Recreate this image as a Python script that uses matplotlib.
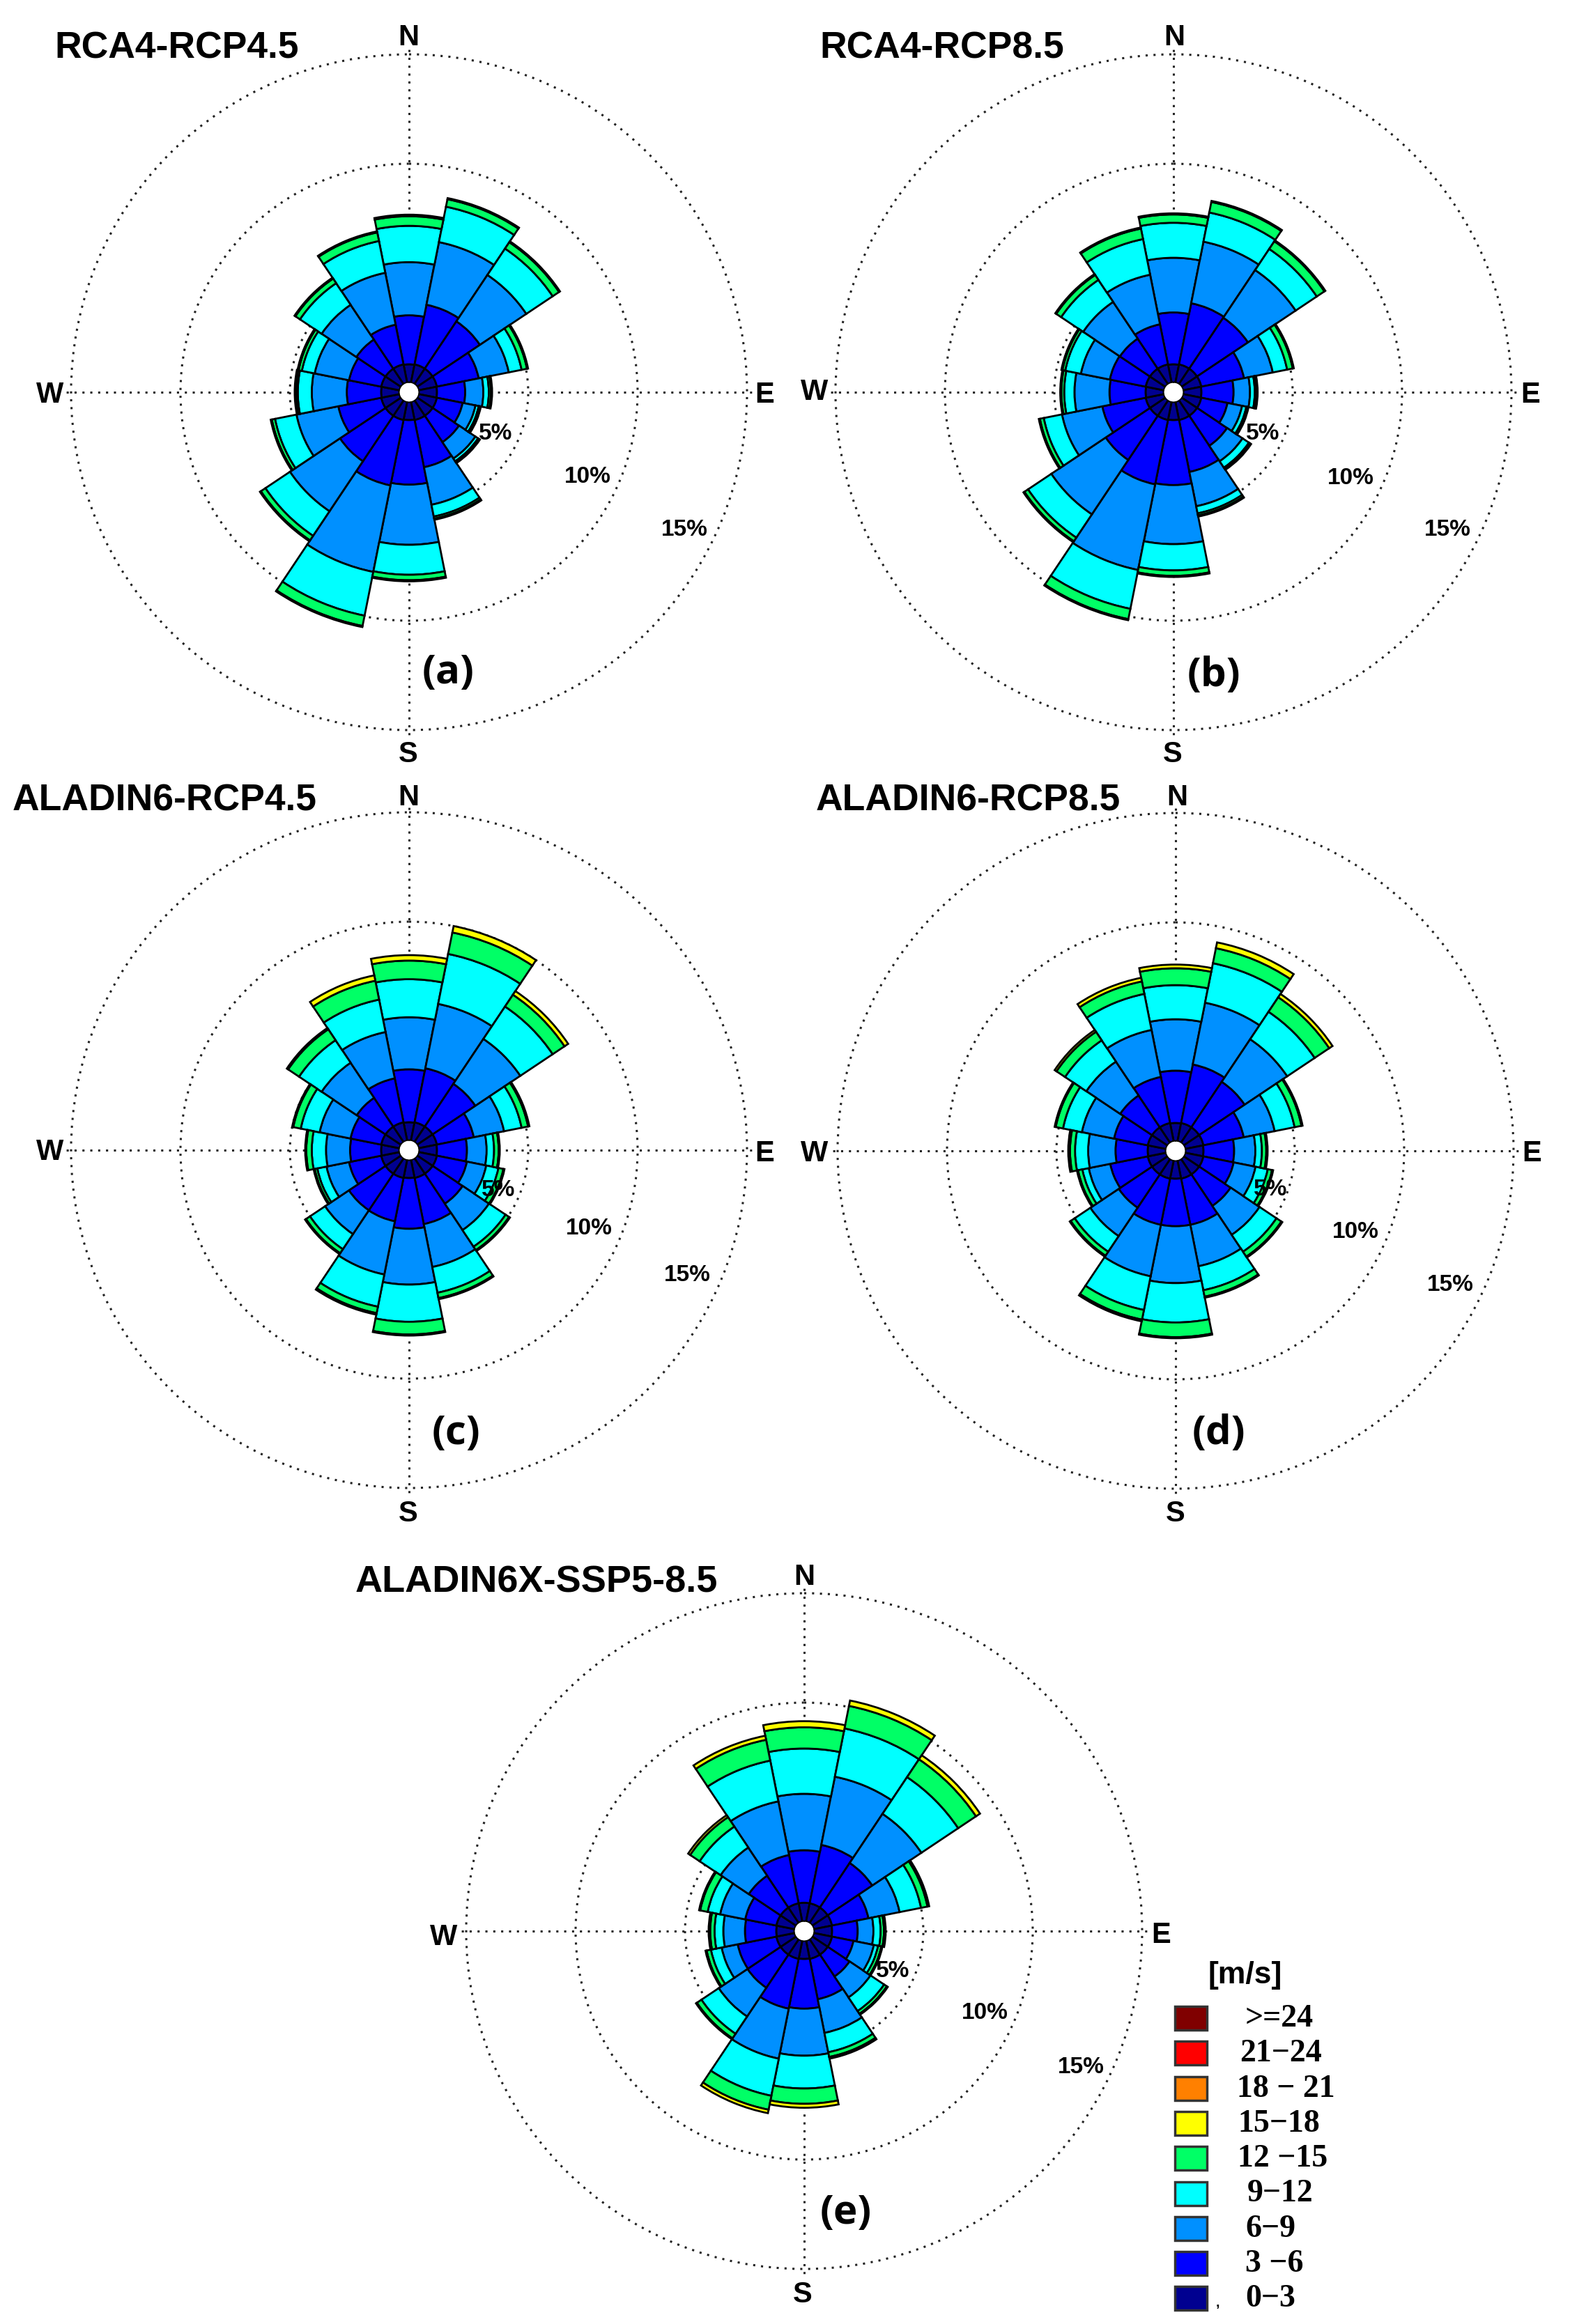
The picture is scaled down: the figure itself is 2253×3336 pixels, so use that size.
import numpy as np
import matplotlib
matplotlib.use('Agg')
import matplotlib.pyplot as plt
from matplotlib.patches import Rectangle

# size of the figure in pixels
W_px = 2253
H_px = 3336

directions = ['N', 'NNE', 'NE', 'ENE', 'E', 'ESE', 'SE', 'SSE', 'S', 'SSW', 'SW', 'WSW', 'W', 'WNW', 'NW', 'NNW']
class_colors = ['#000090', '#0000FF', '#0090FF', '#00FFFF', '#00FF66', '#FFFF00']

# cumulative frequency (%) at the top of the classes 0-3,3-6,6-9,9-12,12-15,15-18, one row per direction
rca4_45 = [[.83, 3.07, 5.5, 7.16, 7.6, 7.67], [.85, 3.63, 6.55, 8.2, 8.55, 8.6], [.85, 3.45, 6.0, 7.45, 7.8, 7.85],
           [.85, 2.8, 4.2, 4.8, 5.05, 5.1], [.83, 2.12, 2.95, 3.2, 3.3, 3.35], [.85, 2.05, 2.65, 2.8, 2.85, 2.9],
           [.85, 2.3, 3.2, 3.35, 3.42, 3.45], [.85, 3.05, 4.8, 5.35, 5.45, 5.5], [.83, 3.78, 6.53, 7.9, 8.15, 8.2],
           [.85, 3.9, 7.93, 9.97, 10.45, 10.5], [.85, 3.35, 6.1, 7.45, 7.7, 7.75], [.85, 2.85, 4.8, 5.8, 5.95, 6.0],
           [.83, 2.4, 4.0, 4.64, 4.73, 4.78], [.85, 2.35, 3.95, 4.55, 4.7, 4.75], [.85, 2.45, 4.36, 5.55, 5.8, 5.85],
           [.85, 2.7, 5.12, 6.6, 7.0, 7.05]]

rca4_85 = [[.83, 3.2, 5.7, 7.3, 7.68, 7.73], [.85, 3.7, 6.57, 7.93, 8.42, 8.47], [.85, 3.65, 6.27, 7.43, 7.85, 7.9],
           [.85, 2.84, 4.18, 4.85, 5.11, 5.16], [.83, 2.3, 3.05, 3.27, 3.35, 3.4], [.85, 2.07, 2.75, 2.95, 3.0, 3.05],
           [.85, 2.5, 3.35, 3.7, 3.77, 3.82], [.85, 3.27, 4.87, 5.2, 5.3, 5.35], [.83, 3.8, 6.5, 7.7, 7.95, 8.0],
           [.85, 3.85, 7.84, 9.65, 10.13, 10.18], [.85, 3.28, 6.27, 7.55, 7.75, 7.8], [.85, 2.87, 4.75, 5.6, 5.78, 5.83],
           [.83, 2.48, 4.08, 4.55, 4.68, 4.73], [.85, 2.52, 3.87, 4.6, 4.73, 4.78], [.85, 2.5, 4.52, 5.73, 6.0, 6.05],
           [.85, 2.72, 5.03, 6.69, 7.18, 7.23]]

aladin_45 = [[.83, 3.25, 5.63, 7.37, 8.22, 8.47], [.85, 3.37, 6.37, 8.7, 9.7, 10.0], [.85, 3.2, 5.67, 7.45, 8.1, 8.3],
             [.85, 2.57, 3.98, 4.8, 5.1, 5.16], [.83, 2.2, 3.1, 3.44, 3.65, 3.7], [.85, 2.25, 3.15, 3.72, 3.95, 4.0],
             [.85, 2.5, 3.95, 4.86, 5.05, 5.1], [.85, 3.0, 5.0, 6.2, 6.45, 6.5], [.83, 3.15, 5.7, 7.4, 7.98, 8.03],
             [.85, 2.87, 5.35, 6.85, 7.15, 7.22], [.85, 2.86, 4.17, 5.0, 5.22, 5.27], [.85, 2.35, 3.4, 3.83, 3.95, 4.0],
             [.83, 2.25, 3.35, 4.0, 4.25, 4.3], [.85, 2.28, 3.72, 4.6, 4.95, 5.0], [.85, 2.43, 4.36, 5.6, 6.2, 6.27],
             [.85, 2.9, 5.06, 6.57, 7.45, 7.7]]

aladin_85 = [[.83, 3.22, 5.57, 7.13, 7.9, 8.07], [.85, 3.58, 6.46, 8.3, 9.0, 9.27], [.85, 3.35, 5.69, 7.2, 8.0, 8.18],
             [.85, 2.73, 4.17, 5.1, 5.42, 5.47], [.83, 2.23, 3.2, 3.5, 3.7, 3.76], [.85, 2.26, 3.28, 3.85, 4.05, 4.1],
             [.85, 2.58, 4.17, 5.1, 5.37, 5.42], [.85, 3.0, 4.93, 6.05, 6.35, 6.4], [.83, 3.0, 5.6, 7.4, 8.07, 8.12],
             [.85, 3.0, 5.4, 6.97, 7.42, 7.5], [.85, 2.68, 4.24, 5.1, 5.32, 5.37], [.85, 2.6, 3.6, 3.9, 4.1, 4.15],
             [.83, 2.3, 3.55, 4.15, 4.38, 4.46], [.85, 2.42, 3.92, 4.8, 5.14, 5.19], [.85, 2.6, 4.46, 5.63, 6.1, 6.2],
             [.85, 3.0, 5.19, 6.87, 7.45, 7.62]]

aladinx_ssp = [[.85, 3.25, 5.83, 7.9, 8.87, 9.15], [.85, 3.57, 6.75, 9.0, 10.05, 10.3], [.85, 3.3, 6.0, 8.02, 9.0, 9.22],
               [.85, 2.55, 4.0, 5.0, 5.3, 5.38], [.83, 2.0, 2.72, 3.05, 3.2, 3.28], [.85, 1.85, 2.8, 3.0, 3.15, 3.2],
               [.85, 2.05, 3.2, 3.95, 4.1, 4.15], [.85, 2.73, 4.3, 5.2, 5.42, 5.5], [.83, 3.1, 5.25, 6.75, 7.45, 7.63],
               [.85, 3.17, 5.5, 7.23, 7.88, 8.04], [.85, 2.67, 4.25, 5.2, 5.45, 5.5], [.85, 2.65, 3.4, 3.9, 4.1, 4.15],
               [.83, 2.26, 3.25, 3.65, 3.85, 3.92], [.85, 2.3, 3.47, 4.05, 4.4, 4.45], [.85, 2.6, 4.15, 5.3, 5.82, 5.93],
               [.85, 3.1, 5.6, 7.5, 8.47, 8.66]]

legend_labels = ['>=24', '21\u221224', '18 \u2212 21', '15\u221218', '12 \u221215', '9\u221212', '6\u22129', '3 \u22126', '0\u22123']
legend_colors = ['#800000', '#FF0000', '#FF8000', '#FFFF00', '#00FF66', '#00FFFF', '#0090FF', '#0000FF', '#000090']
legend_text_x = [1836, 1838, 1845, 1835, 1841, 1837, 1823, 1829, 1823]

# radial scale: pixels per percent and hole in the middle (pixels)
px_per_pct = 31.4
hole_px = 14.0
r_max = 15.25

plt.rcParams['font.family'] = ['Liberation Sans', 'DejaVu Sans']
fig = plt.figure(figsize=(W_px / 100.0, H_px / 100.0), dpi=100, facecolor='white')

# full figure axes in pixel coordinates for all the text and the legend
over = fig.add_axes([0, 0, 1, 1], zorder=5)
over.set_xlim(0, W_px)
over.set_ylim(H_px, 0)
over.axis('off')
over.patch.set_alpha(0)


def rose(data, cx, cy):
    half = hole_px + r_max * px_per_pct
    ax = fig.add_axes([(cx - half) / W_px, 1 - (cy + half) / H_px, 2 * half / W_px, 2 * half / H_px],
                      projection='polar')
    ax.set_theta_zero_location('N')
    ax.set_theta_direction(-1)
    ax.set_axisbelow(True)
    tops = np.array(data)
    theta = np.arange(len(directions)) * 2 * np.pi / len(directions)
    width = 2 * np.pi / len(directions)
    for k in range(tops.shape[1]):
        bottom = tops[:, k - 1] if k > 0 else np.zeros(len(directions))
        ax.bar(theta, tops[:, k] - bottom, width=width, bottom=bottom, color=class_colors[k],
               edgecolor='black', linewidth=2.0, align='center')
    ax.set_rorigin(-hole_px / px_per_pct)
    ax.set_rlim(0, r_max)
    ax.set_rticks([5, 10, 15])
    ax.set_thetagrids([0, 90, 180, 270])
    ax.set_xticklabels([])
    ax.set_yticklabels([])
    ax.grid(True, color='#222222', linewidth=2.2, linestyle=(0, (1, 2.7)))
    ax.spines['polar'].set_visible(False)
    ax.patch.set_alpha(0)
    return ax


def label(x, y, s, size=30, weight='bold', family=None, ha='center', va='center'):
    over.text(x, y, s, fontsize=size, fontweight=weight, ha=ha, va=va, color='black',
              family=family if family else ['Liberation Sans', 'DejaVu Sans'])


panels = [
    (rca4_45, 587, 563, 'RCA4-RCP4.5', 38.5, 78, 83,
     [(586, 54), (1097, 567), (586, 1083), (72, 567)], [(711, 622), (843, 684), (982, 760)], '(a)', (643, 966)),
    (rca4_85, 1684, 563, 'RCA4-RCP8.5', 38.5, 1176, 83,
     [(1685, 54), (2196, 567), (1683, 1083), (1169, 563)], [(1812, 622), (1938, 686), (2077, 760)], '(b)', (1742, 970)),
    (aladin_45, 587, 1651, 'ALADIN6-RCP4.5', 38.5, 18, 1164,
     [(586, 1145), (1097, 1656), (586, 2173), (72, 1654)], [(715, 1708), (845, 1763), (986, 1830)], '(c)', (654, 2058)),
    (aladin_85, 1687, 1652, 'ALADIN6-RCP8.5', 38.5, 1171, 1164,
     [(1689, 1145), (2198, 1656), (1687, 2173), (1169, 1656)], [(1823, 1707), (1945, 1768), (2081, 1844)], '(d)', (1749, 2058)),
    (aladinx_ssp, 1154, 2772, 'ALADIN6X-SSP5-8.5', 39, 510, 2285,
     [(1154, 2264), (1666, 2778), (1152, 3294), (637, 2781)], [(1281, 2830), (1413, 2890), (1551, 2967)], '(e)', (1214, 3177)),
]

for data, cx, cy, title, t_size, tx, ty, compass, pct_pos, tag, tag_pos in panels:
    rose(data, cx, cy)
    label(tx, ty, title, size=t_size, ha='left', va='baseline')
    for s, pos in zip(['N', 'E', 'S', 'W'], compass):
        label(pos[0], pos[1], s, size=30)
    for s, pos in zip(['5%', '10%', '15%'], pct_pos):
        label(pos[0], pos[1], s, size=24)
    label(tag_pos[0], tag_pos[1], tag, size=42, family=['Open Sans', 'DejaVu Sans'])

# legend
label(1787, 2836, '[m/s]', size=32)
for i in range(len(legend_labels)):
    y_c = 2897 + 50.3 * i
    over.add_patch(Rectangle((1686, y_c - 17), 46, 34, facecolor=legend_colors[i], edgecolor='#333333', linewidth=2.5))
    label(legend_text_x[i], y_c + 1, legend_labels[i], size=33, family=['Liberation Serif', 'DejaVu Serif'])
label(1747, 3306, ',', size=14)

fig.savefig('out.png', dpi=100, facecolor='white')
